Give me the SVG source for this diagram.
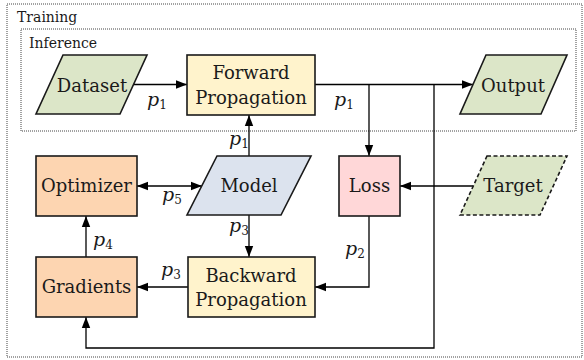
<svg xmlns="http://www.w3.org/2000/svg" width="584" height="360" viewBox="0 0 584 360">
<defs>
<marker id="arr" markerUnits="userSpaceOnUse" markerWidth="12" markerHeight="10" refX="11" refY="5" orient="auto-start-reverse" viewBox="0 0 12 10">
<path d="M0,0.8 L11,5 L0,9.2 Z" fill="#000"/>
</marker>
<style>
.frame{fill:none;stroke:#444;stroke-width:1;stroke-dasharray:1 1}
.node{stroke:#1a1a1a;stroke-width:1.6}
.green{fill:#dce6c8}
.blue{fill:#dce3ee}
.yellow{fill:#fff3cc}
.pink{fill:#ffd7d8}
.orange{fill:#fdd5b1}
.dash{stroke-dasharray:4 2.5}
.t{font-family:"DejaVu Serif","Liberation Serif",serif;font-size:18px;fill:#1a1a1a;text-anchor:middle}
.f{font-family:"DejaVu Serif","Liberation Serif",serif;font-size:14px;fill:#1a1a1a}
.p{font-family:"DejaVu Serif","Liberation Serif",serif;font-size:19px;font-style:italic;fill:#1a1a1a}
.s{font-size:12px;font-style:normal}
.c{fill:none;stroke:#000;stroke-width:1.3}
</style>
</defs>
<g id="training">
<rect class="frame" x="7" y="4" width="575" height="353"/>
<text class="f" x="17" y="22">Training</text>
</g>
<g id="inference">
<rect class="frame" x="21" y="29" width="555" height="102"/>
<text class="f" x="29" y="48">Inference</text>
</g>
<g id="connectors">
<line class="c" x1="134" y1="84.5" x2="187" y2="84.5" marker-end="url(#arr)"/>
<line class="c" x1="315" y1="84.5" x2="473" y2="84.5" marker-end="url(#arr)"/>
<line class="c" x1="369" y1="84.5" x2="369" y2="156" marker-end="url(#arr)"/>
<polyline class="c" points="434,84.5 434,348 86,348 86,317" marker-end="url(#arr)"/>
<line class="c" x1="249" y1="156" x2="249" y2="115" marker-end="url(#arr)"/>
<line class="c" x1="249" y1="215" x2="249" y2="257" marker-end="url(#arr)"/>
<line class="c" x1="473.5" y1="186" x2="400" y2="186" marker-end="url(#arr)"/>
<polyline class="c" points="369,216 369,287 315,287" marker-end="url(#arr)"/>
<line class="c" x1="188" y1="287" x2="137" y2="287" marker-end="url(#arr)"/>
<line class="c" x1="86" y1="257" x2="86" y2="216" marker-end="url(#arr)"/>
<line class="c" x1="137" y1="186" x2="202" y2="186" marker-start="url(#arr)" marker-end="url(#arr)"/>
<text class="p" x="147" y="106">p<tspan class="s" dy="3">1</tspan></text>
<text class="p" x="334" y="106">p<tspan class="s" dy="3">1</tspan></text>
<text class="p" x="229" y="145">p<tspan class="s" dy="3">1</tspan></text>
<text class="p" x="162" y="201">p<tspan class="s" dy="3">5</tspan></text>
<text class="p" x="229" y="232">p<tspan class="s" dy="3">3</tspan></text>
<text class="p" x="93" y="246">p<tspan class="s" dy="3">4</tspan></text>
<text class="p" x="161" y="276">p<tspan class="s" dy="3">3</tspan></text>
<text class="p" x="345" y="255">p<tspan class="s" dy="3">2</tspan></text>
</g>
<g id="dataset">
<polygon class="node green" points="63,55 147,55 120,114 36,114"/>
<text class="t" x="92" y="92">Dataset</text>
</g>
<g id="forward">
<rect class="node yellow" x="187" y="55" width="128" height="60"/>
<text class="t" x="251" y="79">Forward</text>
<text class="t" x="251" y="104">Propagation</text>
</g>
<g id="output">
<polygon class="node green" points="486,55 567,55 541,114 460,114"/>
<text class="t" x="513" y="92">Output</text>
</g>
<g id="optimizer">
<rect class="node orange" x="36" y="156" width="101" height="60"/>
<text class="t" x="86.5" y="192">Optimizer</text>
</g>
<g id="model">
<polygon class="node blue" points="217,156 311,156 281,215 187,215"/>
<text class="t" x="249" y="192">Model</text>
</g>
<g id="loss">
<rect class="node pink" x="339" y="156" width="61" height="60"/>
<text class="t" x="369.5" y="192">Loss</text>
</g>
<g id="target">
<polygon class="node green dash" points="487,156 567,156 540,215 460,215"/>
<text class="t" x="513" y="192">Target</text>
</g>
<g id="gradients">
<rect class="node orange" x="36" y="257" width="101" height="60"/>
<text class="t" x="86.5" y="293">Gradients</text>
</g>
<g id="backward">
<rect class="node yellow" x="188" y="257" width="127" height="60"/>
<text class="t" x="251" y="282">Backward</text>
<text class="t" x="251" y="306">Propagation</text>
</g>
</svg>
